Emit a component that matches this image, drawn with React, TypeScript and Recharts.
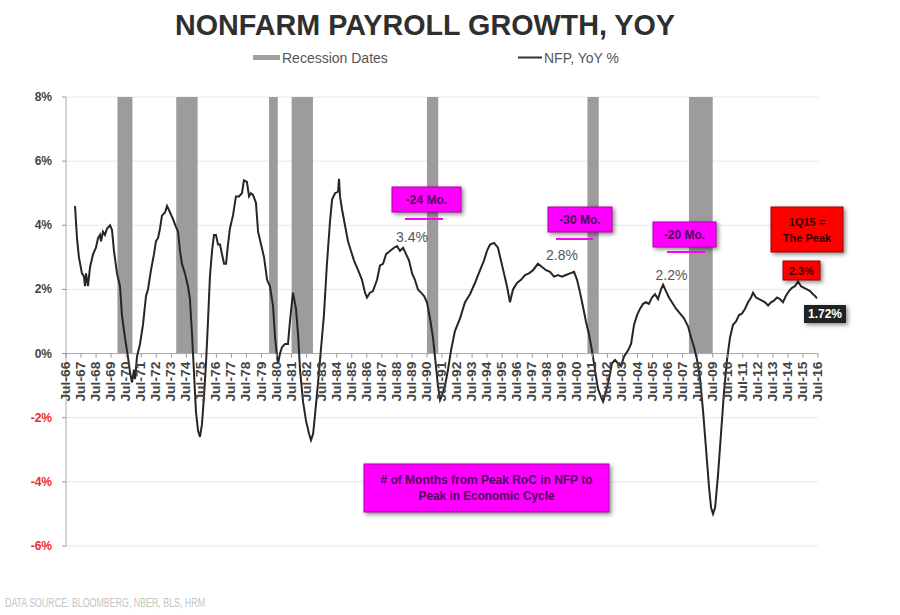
import React from 'react';
import {
  ComposedChart,
  Line,
  XAxis,
  YAxis,
  CartesianGrid,
  ReferenceArea,
  ReferenceLine,
} from 'recharts';

const TITLE = 'NONFARM PAYROLL GROWTH, YOY';
const SOURCE = 'DATA SOURCE: BLOOMBERG, NBER, BLS, HRM';
const LEGEND_RECESSION = 'Recession Dates';
const LEGEND_NFP = 'NFP, YoY %';

const X_TICKS = [
  1966.5, 1967.5, 1968.5, 1969.5, 1970.5, 1971.5, 1972.5, 1973.5, 1974.5, 1975.5,
  1976.5, 1977.5, 1978.5, 1979.5, 1980.5, 1981.5, 1982.5, 1983.5, 1984.5, 1985.5,
  1986.5, 1987.5, 1988.5, 1989.5, 1990.5, 1991.5, 1992.5, 1993.5, 1994.5, 1995.5,
  1996.5, 1997.5, 1998.5, 1999.5, 2000.5, 2001.5, 2002.5, 2003.5, 2004.5, 2005.5,
  2006.5, 2007.5, 2008.5, 2009.5, 2010.5, 2011.5, 2012.5, 2013.5, 2014.5, 2015.5,
  2016.5,
];
const X_TICK_LABELS = [
  'Jul-66', 'Jul-67', 'Jul-68', 'Jul-69', 'Jul-70', 'Jul-71', 'Jul-72', 'Jul-73', 'Jul-74', 'Jul-75',
  'Jul-76', 'Jul-77', 'Jul-78', 'Jul-79', 'Jul-80', 'Jul-81', 'Jul-82', 'Jul-83', 'Jul-84', 'Jul-85',
  'Jul-86', 'Jul-87', 'Jul-88', 'Jul-89', 'Jul-90', 'Jul-91', 'Jul-92', 'Jul-93', 'Jul-94', 'Jul-95',
  'Jul-96', 'Jul-97', 'Jul-98', 'Jul-99', 'Jul-00', 'Jul-01', 'Jul-02', 'Jul-03', 'Jul-04', 'Jul-05',
  'Jul-06', 'Jul-07', 'Jul-08', 'Jul-09', 'Jul-10', 'Jul-11', 'Jul-12', 'Jul-13', 'Jul-14', 'Jul-15',
  'Jul-16',
];
const Y_TICKS = [-6, -4, -2, 0, 2, 4, 6, 8];

// NBER recessions [start, end] as decimal years
const RECESSIONS: [number, number][] = [
  [1969.92, 1970.92],
  [1973.83, 1975.25],
  [1980.0, 1980.58],
  [1981.5, 1982.92],
  [1990.5, 1991.25],
  [2001.17, 2001.92],
  [2007.92, 2009.5],
];

// [decimal year, NFP YoY %]
const NFP_SERIES: [number, number][] = [
  [1967.10, 4.6], [1967.23, 3.6], [1967.36, 3.0], [1967.56, 2.5], [1967.70, 2.4],
  [1967.76, 2.1], [1967.83, 2.5], [1967.96, 2.1], [1968.10, 2.7], [1968.30, 3.1],
  [1968.49, 3.3], [1968.63, 3.6], [1968.76, 3.7], [1968.83, 3.5], [1968.96, 3.8],
  [1969.09, 3.7], [1969.23, 3.9], [1969.43, 4.0], [1969.56, 3.85], [1969.69, 3.2],
  [1969.89, 2.5], [1970.09, 2.1], [1970.22, 1.2], [1970.42, 0.5], [1970.62, -0.1],
  [1970.76, -0.6], [1970.89, -0.9], [1971.02, -0.5], [1971.09, -0.8], [1971.22, -0.1],
  [1971.42, 0.3], [1971.62, 0.9], [1971.82, 1.8], [1971.95, 2.0], [1972.15, 2.6],
  [1972.35, 3.1], [1972.48, 3.5], [1972.62, 3.6], [1972.75, 3.9], [1972.88, 4.3],
  [1973.08, 4.4], [1973.22, 4.6], [1973.42, 4.4], [1973.61, 4.2], [1973.81, 3.95],
  [1973.95, 3.8], [1974.08, 3.2], [1974.21, 2.8], [1974.41, 2.5], [1974.61, 2.1],
  [1974.74, 1.7], [1974.88, 0.6], [1975.01, -0.6], [1975.14, -1.8], [1975.28, -2.4],
  [1975.41, -2.6], [1975.54, -2.2], [1975.68, -1.3], [1975.81, -0.3], [1975.94, 1.0],
  [1976.07, 2.4], [1976.21, 3.2], [1976.34, 3.7], [1976.47, 3.7], [1976.61, 3.4],
  [1976.74, 3.4], [1976.87, 3.1], [1977.01, 2.8], [1977.14, 2.8], [1977.27, 3.4],
  [1977.40, 3.9], [1977.60, 4.3], [1977.80, 4.9], [1978.00, 4.9], [1978.20, 5.0],
  [1978.33, 5.4], [1978.53, 5.35], [1978.67, 4.9], [1978.80, 5.0], [1978.93, 4.95],
  [1979.13, 4.7], [1979.27, 3.8], [1979.47, 3.4], [1979.67, 3.0], [1979.87, 2.3],
  [1980.06, 2.1], [1980.26, 1.5], [1980.40, 0.5], [1980.53, -0.1], [1980.60, -0.3],
  [1980.73, 0.0], [1980.86, 0.2], [1981.06, 0.3], [1981.26, 0.3], [1981.39, 1.0],
  [1981.59, 1.9], [1981.79, 1.4], [1981.93, 0.6], [1982.06, -0.5], [1982.26, -1.5],
  [1982.46, -2.1], [1982.66, -2.5], [1982.79, -2.7], [1982.93, -2.5], [1983.06, -1.9],
  [1983.26, -0.9], [1983.39, -0.2], [1983.52, 0.5], [1983.65, 1.2], [1983.85, 2.8],
  [1984.05, 4.1], [1984.19, 4.8], [1984.39, 5.0], [1984.59, 5.05], [1984.65, 5.45],
  [1984.72, 4.9], [1984.85, 4.5], [1985.05, 4.0], [1985.25, 3.5], [1985.45, 3.2],
  [1985.65, 2.9], [1985.92, 2.6], [1986.18, 2.3], [1986.38, 1.9], [1986.51, 1.75],
  [1986.71, 1.9], [1986.91, 1.95], [1987.18, 2.3], [1987.38, 2.75], [1987.58, 2.8],
  [1987.78, 3.1], [1988.04, 3.2], [1988.31, 3.3], [1988.51, 3.35], [1988.71, 3.2],
  [1988.91, 3.3], [1989.11, 3.1], [1989.31, 2.9], [1989.51, 2.5], [1989.70, 2.3],
  [1989.90, 2.0], [1990.10, 1.9], [1990.30, 1.8], [1990.50, 1.6], [1990.70, 1.1],
  [1990.90, 0.5], [1991.10, -0.4], [1991.23, -1.0], [1991.37, -1.45], [1991.50, -1.3],
  [1991.70, -1.0], [1991.90, -0.5], [1992.10, 0.1], [1992.36, 0.7], [1992.70, 1.1],
  [1993.03, 1.6], [1993.36, 1.85], [1993.69, 2.2], [1994.03, 2.6], [1994.29, 2.9],
  [1994.49, 3.2], [1994.69, 3.4], [1994.96, 3.45], [1995.22, 3.3], [1995.42, 2.9],
  [1995.62, 2.5], [1995.82, 2.1], [1996.02, 1.6], [1996.22, 2.0], [1996.49, 2.2],
  [1996.75, 2.3], [1997.02, 2.45], [1997.28, 2.5], [1997.55, 2.6], [1997.88, 2.8],
  [1998.15, 2.7], [1998.42, 2.6], [1998.68, 2.55], [1998.95, 2.4], [1999.21, 2.45],
  [1999.48, 2.4], [1999.74, 2.45], [2000.01, 2.5], [2000.28, 2.55], [2000.48, 2.3],
  [2000.68, 1.9], [2000.88, 1.45], [2001.07, 1.0], [2001.27, 0.6], [2001.47, 0.1],
  [2001.67, -0.5], [2001.87, -1.1], [2002.07, -1.35], [2002.21, -1.5], [2002.40, -1.2],
  [2002.60, -0.8], [2002.80, -0.3], [2003.00, -0.2], [2003.20, -0.3], [2003.40, -0.4],
  [2003.60, -0.1], [2003.87, 0.1], [2004.07, 0.3], [2004.27, 0.9], [2004.47, 1.2],
  [2004.67, 1.4], [2004.87, 1.55], [2005.06, 1.6], [2005.26, 1.55], [2005.46, 1.75],
  [2005.66, 1.85], [2005.86, 1.7], [2006.06, 2.0], [2006.20, 2.15], [2006.39, 1.95],
  [2006.59, 1.75], [2006.79, 1.6], [2007.06, 1.4], [2007.32, 1.25], [2007.59, 1.1],
  [2007.86, 0.85], [2008.06, 0.5], [2008.26, 0.2], [2008.46, -0.2], [2008.66, -0.8],
  [2008.86, -1.8], [2009.06, -3.0], [2009.26, -4.2], [2009.39, -4.8], [2009.52, -5.0],
  [2009.66, -4.8], [2009.85, -3.8], [2010.05, -2.5], [2010.25, -1.2], [2010.45, -0.2],
  [2010.65, 0.5], [2010.85, 0.9], [2011.05, 1.0], [2011.25, 1.2], [2011.45, 1.25],
  [2011.65, 1.4], [2011.85, 1.6], [2012.05, 1.75], [2012.18, 1.9], [2012.38, 1.75],
  [2012.58, 1.7], [2012.78, 1.65], [2012.98, 1.6], [2013.18, 1.5], [2013.38, 1.6],
  [2013.57, 1.65], [2013.77, 1.75], [2013.97, 1.7], [2014.17, 1.6], [2014.37, 1.8],
  [2014.57, 1.95], [2014.77, 2.05], [2014.97, 2.1], [2015.17, 2.25], [2015.37, 2.1],
  [2015.57, 2.05], [2015.77, 2.0], [2015.97, 1.95], [2016.17, 1.85], [2016.30, 1.8],
  [2016.43, 1.72],
];

const chartData = NFP_SERIES.map(([t, v]) => ({ t, v }));

const W = 900;
const H = 615;
const MARGIN = { top: 97, right: 82, bottom: 68, left: 16 };
const Y_AXIS_W = 50;
const X_AXIS_H = 1;
const Y_MIN = -6;
const Y_MAX = 8;
const PLOT_H = H - MARGIN.top - MARGIN.bottom - X_AXIS_H;
const ZERO_Y = MARGIN.top + (PLOT_H * Y_MAX) / (Y_MAX - Y_MIN);

const FONT = "'Liberation Sans', Arial, Helvetica, sans-serif";

const XTick = (props: any) => {
  const { x, payload } = props;
  const i = X_TICKS.indexOf(payload.value);
  const label = i >= 0 ? X_TICK_LABELS[i] : '';
  const ty = ZERO_Y + 8;
  return (
    <g>
      <line x1={x} x2={x} y1={ZERO_Y} y2={ZERO_Y + 4} stroke="#999" strokeWidth={1} />
      <text
        x={x}
        y={ty}
        transform={`rotate(-90 ${x} ${ty})`}
        textAnchor="end"
        dominantBaseline="central"
        fontSize={12}
        fontWeight="bold"
        fill="#444"
        fontFamily={FONT}
        textLength={40}
        lengthAdjust="spacingAndGlyphs"
      >
        {label}
      </text>
    </g>
  );
};

const YTick = (props: any) => {
  const { x, y, payload } = props;
  const v = payload.value as number;
  return (
    <text
      x={x}
      y={y}
      textAnchor="end"
      dominantBaseline="central"
      fontSize={12}
      fontWeight="bold"
      fill={v < 0 ? '#f22a2a' : '#444'}
      fontFamily={FONT}
    >
      {`${v}%`}
    </text>
  );
};

const shadow = { filter: 'drop-shadow(2px 2px 2px rgba(0,0,0,0.45))' };
const MAGENTA = '#ff00ff';
const PURPLE_TEXT = '#4a0a5a';

function Overlay() {
  return (
    <svg
      width={W}
      height={H}
      style={{ position: 'absolute', left: 0, top: 0, pointerEvents: 'none' }}
      fontFamily={FONT}
    >
      {/* Title */}
      <text
        x={425}
        y={24}
        textAnchor="middle"
        dominantBaseline="central"
        fontSize={30}
        fontWeight="bold"
        fill="#2f2f2f"
        textLength={500}
        lengthAdjust="spacingAndGlyphs"
      >
        {TITLE}
      </text>
      {/* Legend */}
      <rect x={253} y={55} width={27} height={5} fill="#a0a0a0" />
      <text x={282} y={57.5} dominantBaseline="central" fontSize={14} fill="#555">
        {LEGEND_RECESSION}
      </text>
      <line x1={518} x2={542} y1={57.5} y2={57.5} stroke="#333" strokeWidth={2} />
      <text x={544} y={57.5} dominantBaseline="central" fontSize={14} fill="#555">
        {LEGEND_NFP}
      </text>

      {/* -24 Mo. */}
      <rect x={392} y={187} width={69} height={25} fill={MAGENTA} stroke="#b000b0" strokeWidth={1} style={shadow} />
      <text x={426.5} y={199.5} textAnchor="middle" dominantBaseline="central" fontSize={12} fontWeight="bold" fill={PURPLE_TEXT}>
        -24 Mo.
      </text>
      <line x1={405} x2={443} y1={219} y2={219} stroke={MAGENTA} strokeWidth={2} />
      <text x={412} y={237} textAnchor="middle" dominantBaseline="central" fontSize={14} fill="#555">
        3.4%
      </text>

      {/* -30 Mo. */}
      <rect x={548} y={207} width={64} height={25} fill={MAGENTA} stroke="#b000b0" strokeWidth={1} style={shadow} />
      <text x={580} y={219.5} textAnchor="middle" dominantBaseline="central" fontSize={12} fontWeight="bold" fill={PURPLE_TEXT}>
        -30 Mo.
      </text>
      <line x1={556} x2={593} y1={239} y2={239} stroke={MAGENTA} strokeWidth={2} />
      <text x={562} y={255} textAnchor="middle" dominantBaseline="central" fontSize={14} fill="#555">
        2.8%
      </text>

      {/* -20 Mo. */}
      <rect x={653} y={222} width={63} height={25} fill={MAGENTA} stroke="#b000b0" strokeWidth={1} style={shadow} />
      <text x={684.5} y={234.5} textAnchor="middle" dominantBaseline="central" fontSize={12} fontWeight="bold" fill={PURPLE_TEXT}>
        -20 Mo.
      </text>
      <line x1={667} x2={705} y1={252} y2={252} stroke={MAGENTA} strokeWidth={2} />
      <text x={671.5} y={275} textAnchor="middle" dominantBaseline="central" fontSize={14} fill="#555">
        2.2%
      </text>

      {/* 1Q15 = The Peak */}
      <rect x={771} y={207} width={72} height={45} fill="#ff0000" stroke="#a00000" strokeWidth={1} style={shadow} />
      <text x={807} y={221.5} textAnchor="middle" dominantBaseline="central" fontSize={11} fontWeight="bold" fill="#3a0000">
        1Q15 =
      </text>
      <text x={807} y={237.5} textAnchor="middle" dominantBaseline="central" fontSize={11} fontWeight="bold" fill="#3a0000">
        The Peak
      </text>

      {/* 2.3% */}
      <rect x={783} y={261} width={37} height={19} fill="#ff0000" stroke="#a00000" strokeWidth={1} style={shadow} />
      <text x={801.5} y={270.5} textAnchor="middle" dominantBaseline="central" fontSize={11} fontWeight="bold" fill="#3a0000">
        2.3%
      </text>

      {/* 1.72% */}
      <rect x={804} y={305} width={42} height={18} fill="#222" style={shadow} />
      <text x={825} y={314} textAnchor="middle" dominantBaseline="central" fontSize={12} fontWeight="bold" fill="#fff">
        1.72%
      </text>

      {/* Big explanation box */}
      <rect x={364} y={464} width={245} height={48} fill={MAGENTA} stroke="#b000b0" strokeWidth={1} style={shadow} />
      <text
        x={486.5}
        y={479}
        textAnchor="middle"
        dominantBaseline="central"
        fontSize={13}
        fontWeight="bold"
        fill={PURPLE_TEXT}
        textLength={212}
        lengthAdjust="spacingAndGlyphs"
      >
        # of Months from Peak RoC in NFP to
      </text>
      <text
        x={486.5}
        y={495}
        textAnchor="middle"
        dominantBaseline="central"
        fontSize={13}
        fontWeight="bold"
        fill={PURPLE_TEXT}
        textLength={136}
        lengthAdjust="spacingAndGlyphs"
      >
        Peak in Economic Cycle
      </text>

      {/* Source */}
      <text
        x={5}
        y={603}
        dominantBaseline="central"
        fontSize={12}
        fill="#c4c4c4"
        textLength={200}
        lengthAdjust="spacingAndGlyphs"
      >
        {SOURCE}
      </text>
    </svg>
  );
}

export default function App() {
  return (
    <div style={{ position: 'absolute', left: 0, top: 0, width: W, height: H, background: '#fff' }}>
      <ComposedChart width={W} height={H} data={chartData} margin={MARGIN}>
        <CartesianGrid vertical={false} stroke="#e8e8e8" />
        {RECESSIONS.map(([a, b], i) => (
          <ReferenceArea
            key={i}
            x1={a}
            x2={b}
            y1={0}
            y2={8}
            fill="#9c9c9c"
            fillOpacity={1}
            stroke="none"
            ifOverflow="hidden"
          />
        ))}
        <XAxis
          dataKey="t"
          type="number"
          domain={[1966.5, 2016.5]}
          ticks={X_TICKS}
          interval={0}
          height={X_AXIS_H}
          axisLine={false}
          tickLine={false}
          tickSize={0}
          tickMargin={0}
          tick={<XTick />}
          allowDataOverflow
        />
        <YAxis
          type="number"
          domain={[Y_MIN, Y_MAX]}
          ticks={Y_TICKS}
          interval={0}
          width={Y_AXIS_W}
          axisLine={{ stroke: '#aaa' }}
          tickLine={{ stroke: '#999' }}
          tickSize={4}
          tickMargin={10}
          tick={<YTick />}
          allowDataOverflow
        />
        <ReferenceLine y={0} stroke="#aaa" strokeWidth={1} />
        <Line
          dataKey="v"
          type="linear"
          stroke="#262626"
          strokeWidth={2}
          dot={false}
          activeDot={false}
          isAnimationActive={false}
        />
      </ComposedChart>
      <Overlay />
    </div>
  );
}
